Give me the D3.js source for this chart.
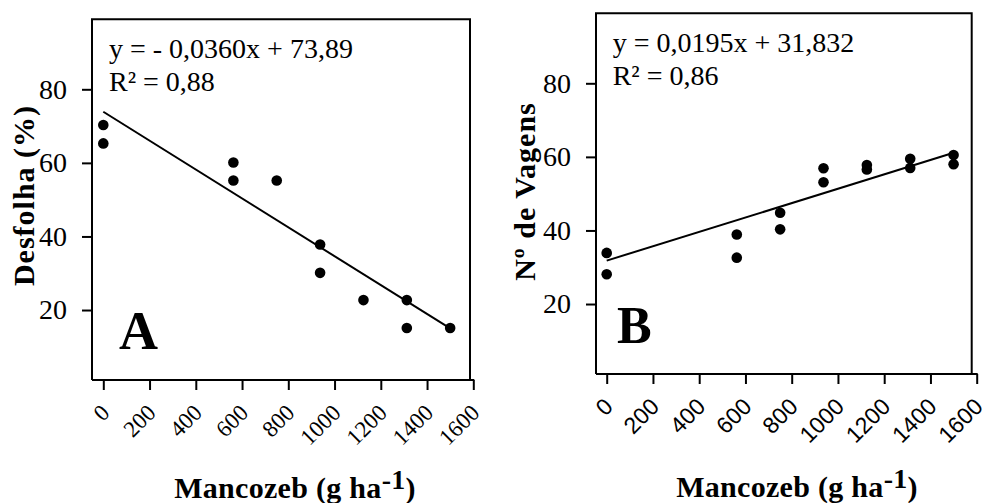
<!DOCTYPE html>
<html>
<head>
<meta charset="utf-8">
<script src="https://cdn.jsdelivr.net/npm/d3@7"></script>
<style>
  html, body { margin: 0; padding: 0; background: #fff; }
  svg { display: block; }
  text { font-family: "Liberation Serif", "Times New Roman", serif; fill: #000; }
</style>
</head>
<body>
<svg id="chart" width="983" height="503"></svg>
<script>
// ---- Data ----
const xTicks = [0, 200, 400, 600, 800, 1000, 1200, 1400, 1600];
const yTicks = [20, 40, 60, 80];

// Panel A: Desfolha (%)
const doseA = [0, 0, 562.5, 562.5, 750, 937.5, 937.5, 1125, 1312.5, 1312.5, 1500];
const desfolha = [70.3, 65.3, 60.1, 55.2, 55.2, 37.8, 30.1, 22.7, 22.7, 15.1, 15.1];
const fitDoseA = [0, 1500];
const fitDesfolha = [73.9, 15.0];

// Panel B: Nº de Vagens
const doseB = [0, 0, 562.5, 562.5, 750, 750, 937.5, 937.5, 1125, 1125, 1312.5, 1312.5, 1500, 1500];
const vagens = [33.9, 28.1, 38.9, 32.6, 44.8, 40.3, 56.9, 53.1, 57.8, 56.6, 59.5, 57.0, 60.5, 58.0];
const fitDoseB = [0, 1490];
const fitVagens = [31.8, 60.9];

const xTitle = "Mancozeb (g ha";
const xTitleSup = "-1";

const serif = '"Liberation Serif", "Times New Roman", serif';
const sans = '"Liberation Sans", Arial, sans-serif';

const panels = [
  {
    letter: "A", ylabel: "Desfolha (%)",
    eq: "y = - 0,0360x + 73,89", r2: "R² = 0,88",
    xs: doseA, ys: desfolha, fx: fitDoseA, fy: fitDesfolha,
    frame: { l: 92, t: 19.3, r: 470, b: 380 },
    xRange: [103.3, 473.3], yRange: [383.6, 89.3],
    eqPos: [109, 58.3, 90.7], letterPos: [119, 349.3, 54],
    ylabPos: [33.5, 195.5], xtitlePos: [295, 498],
    xTickFont: serif
  },
  {
    letter: "B", ylabel: "Nº de Vagens",
    eq: "y = 0,0195x + 31,832", r2: "R² = 0,86",
    xs: doseB, ys: vagens, fx: fitDoseB, fy: fitVagens,
    frame: { l: 596, t: 13.3, r: 971.7, b: 374 },
    xRange: [606.7, 976.7], yRange: [377.6, 83.3],
    eqPos: [612.7, 51.7, 85], letterPos: [617, 342.7, 52],
    ylabPos: [535, 191.5], xtitlePos: [797, 497],
    xTickFont: sans
  }
];

const svg = d3.select("#chart");

panels.forEach(p => {
  const x = d3.scaleLinear().domain([0, 1600]).range(p.xRange);
  const y = d3.scaleLinear().domain([0, 80]).range(p.yRange);
  const f = p.frame;
  const g = svg.append("g");

  // frame
  g.append("path")
    .attr("d", `M${f.l},${f.b} L${f.l},${f.t} L${f.r},${f.t} L${f.r},${f.b}`)
    .attr("fill", "none").attr("stroke", "#000").attr("stroke-width", 2);
  g.append("line")
    .attr("x1", f.l).attr("x2", x(1600) + 1)
    .attr("y1", f.b).attr("y2", f.b)
    .attr("stroke", "#000").attr("stroke-width", 2);

  // x axis
  const xa = g.append("g").attr("transform", `translate(0,${f.b})`)
    .call(d3.axisBottom(x).tickValues(xTicks).tickSize(10).tickFormat(d3.format("d")));
  xa.select(".domain").remove();
  xa.selectAll(".tick line").attr("stroke-width", 2);
  xa.selectAll(".tick text")
    .attr("x", null).attr("y", null).attr("dy", null)
    .attr("text-anchor", "end")
    .attr("transform", "translate(7,34) rotate(-45)")
    .style("font-family", p.xTickFont)
    .style("font-size", "23px");

  // y axis
  const ya = g.append("g").attr("transform", `translate(${f.l},0)`)
    .call(d3.axisLeft(y).tickValues(yTicks).tickSize(10).tickPadding(15));
  ya.select(".domain").remove();
  ya.selectAll(".tick line").attr("stroke-width", 2);
  ya.selectAll(".tick text")
    .style("font-family", serif)
    .style("font-size", "28px");

  // fit line
  const fitData = p.fx.map((d, i) => [d, p.fy[i]]);
  g.append("path")
    .datum(fitData)
    .attr("d", d3.line().x(d => x(d[0])).y(d => y(d[1])))
    .attr("fill", "none").attr("stroke", "#000").attr("stroke-width", 2);

  // points
  g.selectAll("circle.pt")
    .data(p.xs.map((d, i) => [d, p.ys[i]]))
    .join("circle")
    .attr("class", "pt")
    .attr("cx", d => x(d[0])).attr("cy", d => y(d[1]))
    .attr("r", 5.3).attr("fill", "#000");

  // equation
  g.append("text").attr("x", p.eqPos[0]).attr("y", p.eqPos[1])
    .style("font-size", "28px").text(p.eq);
  g.append("text").attr("x", p.eqPos[0]).attr("y", p.eqPos[2])
    .style("font-size", "28px").text(p.r2);

  // panel letter
  g.append("text").attr("x", p.letterPos[0]).attr("y", p.letterPos[1])
    .style("font-size", p.letterPos[2] + "px").style("font-weight", "bold")
    .text(p.letter);

  // y label
  g.append("text")
    .attr("transform", `translate(${p.ylabPos[0]},${p.ylabPos[1]}) rotate(-90)`)
    .attr("text-anchor", "middle")
    .style("font-size", "30px").style("font-weight", "bold")
    .style("letter-spacing", "1px")
    .text(p.ylabel);

  // x title
  const xt = g.append("text")
    .attr("x", p.xtitlePos[0]).attr("y", p.xtitlePos[1])
    .attr("text-anchor", "middle")
    .style("font-size", "30px").style("font-weight", "bold")
    .style("letter-spacing", "0.3px");
  xt.append("tspan").text(xTitle);
  xt.append("tspan").attr("dy", -9).style("font-size", "28px").text(xTitleSup);
  xt.append("tspan").attr("dy", 9).text(")");
});
</script>
</body>
</html>
